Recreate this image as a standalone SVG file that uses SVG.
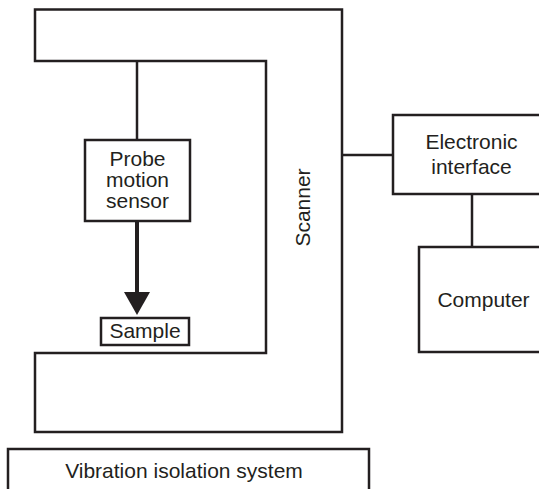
<svg xmlns="http://www.w3.org/2000/svg" width="539" height="489" viewBox="0 0 539 489">
<style>
.box{fill:#fff;stroke:#231f20;stroke-width:2.5}
.ln{fill:none;stroke:#231f20;stroke-width:2.5}
text{font-family:"Liberation Sans",Arial,sans-serif;font-size:21px;fill:#231f20;text-anchor:middle}
</style>
<rect width="539" height="489" fill="#fff"/>
<g id="scanner">
<path class="box" d="M35,9.5 H342 V432 H35 V353 H266 V61 H35 Z"/>
<text transform="translate(310,207.5) rotate(-90)">Scanner</text>
</g>
<g id="connectors">
<line class="ln" x1="137" y1="61" x2="137" y2="140"/>
<line class="ln" x1="342" y1="155" x2="393" y2="155"/>
<line class="ln" x1="472" y1="194" x2="472" y2="247"/>
<line fill="none" stroke="#231f20" stroke-width="4" x1="137" y1="221" x2="137" y2="300"/>
<path d="M124,292 L150,292 L137,315 Z" fill="#231f20"/>
</g>
<g id="probe">
<rect class="box" x="85" y="140" width="105" height="81"/>
<text x="137.5" y="166">Probe</text>
<text x="137.5" y="187">motion</text>
<text x="137.5" y="208">sensor</text>
</g>
<g id="sample">
<rect class="box" x="101" y="318" width="88" height="27"/>
<text x="145" y="338">Sample</text>
</g>
<g id="electronic">
<rect class="box" x="393" y="115" width="150" height="79"/>
<text x="471.5" y="149">Electronic</text>
<text x="471.5" y="174">interface</text>
</g>
<g id="computer">
<rect class="box" x="419" y="247" width="130" height="105"/>
<text x="483.5" y="307">Computer</text>
</g>
<g id="vibration">
<rect class="box" x="8" y="449" width="361" height="50"/>
<text x="184" y="478">Vibration isolation system</text>
</g>
</svg>
